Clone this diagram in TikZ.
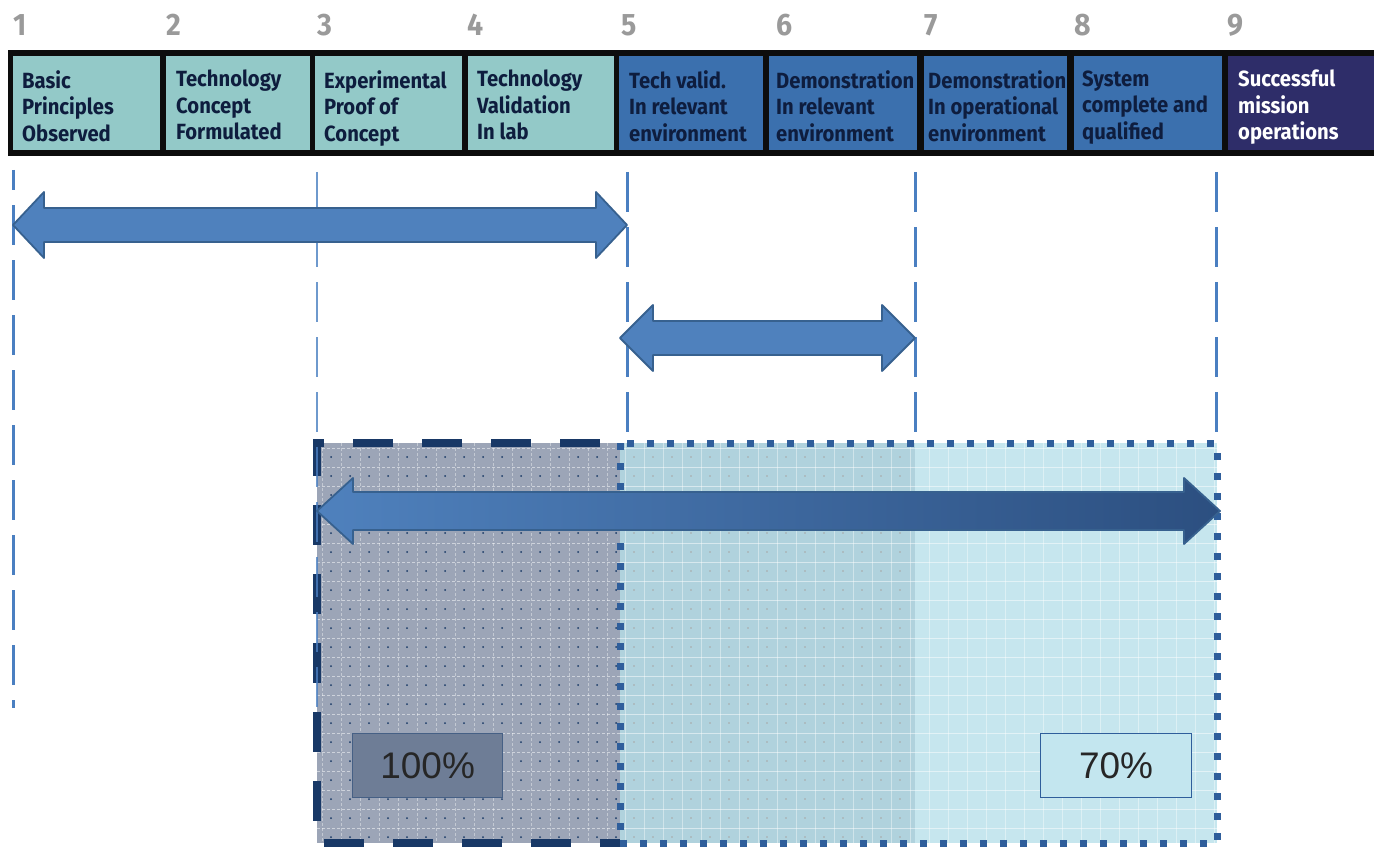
\documentclass[tikz,border=0pt]{standalone}
\usepackage{fontspec}
\setmainfont{Liberation Sans}
\newfontfamily\hdrfont[FakeStretch=0.92]{Fira Sans}
\usetikzlibrary{calc}
\definecolor{teal1}{HTML}{93C9C8}
\definecolor{blue5}{HTML}{3B70AE}
\definecolor{navy9}{HTML}{2E2D69}
\definecolor{txtnavy}{HTML}{0E1D3E}
\definecolor{numgray}{HTML}{9A9A9A}
\definecolor{lineblue}{HTML}{4A7FC1}
\definecolor{arrfill}{HTML}{4F81BD}
\definecolor{arrline}{HTML}{37618F}
\definecolor{arrdark}{HTML}{2C4F80}
\definecolor{leftborder}{HTML}{183866}
\definecolor{rightborder}{HTML}{2F5E9B}
\definecolor{leftfill}{HTML}{9CA5B7}
\definecolor{midfill}{HTML}{B0D2DD}
\definecolor{rightfill}{HTML}{C6E6EE}
\definecolor{lbl100}{HTML}{6E7D96}
\definecolor{lbl70}{HTML}{C3E6EF}
\newcommand\blockarrow[7]{%
  \path[#1] (#2,#4) -- (#2+#7,#4-#6) -- (#2+#7,#4-#5) -- (#3-#7,#4-#5)
    -- (#3-#7,#4-#6) -- (#3,#4) -- (#3-#7,#4+#6) -- (#3-#7,#4+#5)
    -- (#2+#7,#4+#5) -- (#2+#7,#4+#6) -- cycle;}
\begin{document}
\begin{tikzpicture}[x=1pt,y=-1pt,
  hbox/.style={anchor=north west, inner sep=0pt, minimum height=94pt},
  htext/.style={anchor=north west, inner sep=0pt, align=left, text=txtnavy,
    font=\hdrfont\bfseries\fontsize{22}{26.5}\selectfont},
  numlbl/.style={anchor=base west, inner sep=0pt, text=numgray,
    font=\hdrfont\bfseries\fontsize{31}{34}\selectfont},
  vdash/.style={draw=lineblue, line width=3pt, dash pattern=on 40pt off 15pt},
  arrowshape/.style={fill=arrfill, draw=arrline, line width=1.8pt, line join=round},
  pctbox/.style={anchor=north west, inner sep=0pt, minimum height=64pt,
    line width=1.2pt, font=\fontsize{37}{40}\selectfont, text=black!85}
]
\useasboundingbox (0,0) rectangle (1374,848);

% header bar
\fill[black!95] (8,50) rectangle (1374,156);
\node[hbox, fill=teal1, minimum width=147pt] (b1) at (13,56) {};
\node[hbox, fill=teal1, minimum width=144pt] (b2) at (166,56) {};
\node[hbox, fill=teal1, minimum width=147pt] (b3) at (315,56) {};
\node[hbox, fill=teal1, minimum width=146pt] (b4) at (468,56) {};
\node[hbox, fill=blue5, minimum width=144pt] (b5) at (619,56) {};
\node[hbox, fill=blue5, minimum width=148pt] (b6) at (769,56) {};
\node[hbox, fill=blue5, minimum width=143pt] (b7) at (924,56) {};
\node[hbox, fill=blue5, minimum width=148pt] (b8) at (1074,56) {};
\node[hbox, fill=navy9, minimum width=146pt] (b9) at (1228,56) {};

\node[htext] (t1) at ($(b1.north west)+(9,14)$) {\rule{0pt}{16pt}Basic\\Principles\\Observed};
\node[htext] (t2) at ($(b2.north west)+(10,14)$) {\rule{0pt}{16pt}Technology\\Concept\\Formulated};
\node[htext] (t3) at ($(b3.north west)+(9,14)$) {\rule{0pt}{16pt}Experimental\\Proof of\\Concept};
\node[htext] (t4) at ($(b4.north west)+(9,14)$) {\rule{0pt}{16pt}Technology\\Validation\\In lab};
\node[htext] (t5) at ($(b5.north west)+(10,14)$) {\rule{0pt}{16pt}Tech valid.\\In relevant\\environment};
\node[htext] (t6) at ($(b6.north west)+(7,14)$) {\rule{0pt}{16pt}Demonstration\\In relevant\\environment};
\node[htext] (t7) at ($(b7.north west)+(4,14)$) {\rule{0pt}{16pt}Demonstration\\In operational\\environment};
\node[htext] (t8) at ($(b8.north west)+(8,14)$) {\rule{0pt}{16pt}System\\complete and\\qualified};
\node[htext, text=white] (t9) at ($(b9.north west)+(10,14)$) {\rule{0pt}{16pt}Successful\\mission\\operations};

% TRL numbers
\node[numlbl] (n1) at (13,36) {1};
\node[numlbl] (n2) at (166,36) {2};
\node[numlbl] (n3) at (317,36) {3};
\node[numlbl] (n4) at (467,36) {4};
\node[numlbl] (n5) at (621,36) {5};
\node[numlbl] (n6) at (776,36) {6};
\node[numlbl] (n7) at (924,36) {7};
\node[numlbl] (n8) at (1074,36) {8};
\node[numlbl] (n9) at (1227,36) {9};

% dashed verticals
\coordinate (v1t) at (13,170);  \coordinate (v1b) at (13,708);
\coordinate (v3t) at (317,172); \coordinate (v3b) at (317,710);
\coordinate (v5t) at (627,172); \coordinate (v5b) at (627,440);
\coordinate (v7t) at (915,172); \coordinate (v7b) at (915,440);
\coordinate (v9t) at (1216,172); \coordinate (v9b) at (1216,440);
\draw[vdash, dash phase=20pt] (v1t) -- (v1b);
\draw[vdash] (v5t) -- (v5b);
\draw[vdash] (v7t) -- (v7b);
\draw[vdash] (v9t) -- (v9b);

% shaded regions
\begin{scope}
  \clip (317,443) rectangle (620,843);
  \fill[leftfill] (317,443) rectangle (620,843);
  \foreach \y in {448,467,...,843} \draw[white, opacity=0.5, line width=0.8pt, dash pattern=on 3pt off 2pt] (317,\y) -- (620,\y);
  \foreach \x in {322,341,...,620} \draw[white, opacity=0.4, line width=0.8pt, dash pattern=on 3pt off 2pt] (\x,443) -- (\x,843);
  \foreach \x in {331,350,...,620} \foreach \y in {457,476,...,843} \fill[leftborder] (\x,\y) circle (1pt);
\end{scope}
\begin{scope}
  \clip (620,443) rectangle (1217,843);
  \fill[midfill] (620,443) rectangle (915,843);
  \fill[rightfill] (915,443) rectangle (1217,843);
  \foreach \y in {448,467,...,843} \draw[white, opacity=0.5, line width=0.8pt] (620,\y) -- (1217,\y);
  \foreach \x in {625,644,...,1217} \draw[white, opacity=0.4, line width=0.8pt] (\x,443) -- (\x,843);
  \foreach \x in {634,653,...,915} \foreach \y in {457,476,...,843} \fill[gray!70] (\x,\y) circle (0.8pt);
\end{scope}
\draw[rightborder, line width=7pt, dash pattern=on 7pt off 13pt] (620,443) rectangle (1217,843);
\draw[leftborder, line width=8pt, dash pattern=on 40pt off 29pt, dash phase=-20pt] (620,443) -- (317,443) -- (317,843) -- (620,843);
\draw[vdash, line width=2pt, opacity=0.8] (v3t) -- (v3b);

% percentage labels
\node[pctbox, fill=lbl100, draw=leftborder!80, minimum width=150pt] (p100) at (352,733) {100\%};
\node[pctbox, fill=lbl70, draw=rightborder, minimum width=151pt] (p70) at (1040,733) {70\%};

% block arrows
\blockarrow{arrowshape}{13}{627}{225}{17}{33}{31}
\blockarrow{arrowshape}{620}{915}{338}{17}{33}{33}
\blockarrow{left color=arrfill, right color=arrdark, draw=arrline, line width=1.8pt, line join=round}{317}{1220}{511}{19}{33}{36}
\end{tikzpicture}
\end{document}
